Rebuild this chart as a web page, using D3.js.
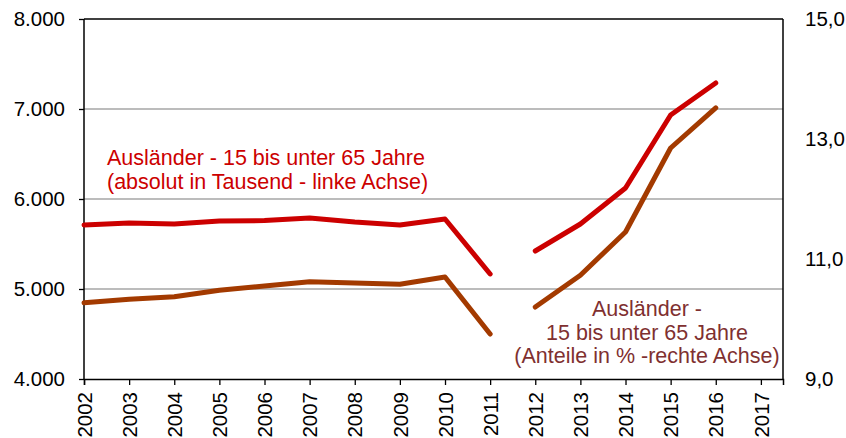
<!DOCTYPE html>
<html>
<head>
<meta charset="utf-8">
<script src="https://cdn.jsdelivr.net/npm/d3@7"></script>
<style>
  body { margin: 0; background: #fff; }
  text { font-family: Arial, "Liberation Sans", sans-serif; }
</style>
</head>
<body>
<div id="chart"></div>
<script>
// data
let years = [2002, 2003, 2004, 2005, 2006, 2007, 2008, 2009, 2010, 2011, 2012, 2013, 2014, 2015, 2016];
let absolut = [5711, 5733, 5722, 5756, 5760, 5789, 5744, 5711, 5778, 5167, 5422, 5722, 6122, 6933, 7289];
let anteil = [10.27, 10.33, 10.37, 10.48, 10.55, 10.62, 10.60, 10.58, 10.70, 9.75, 10.20, 10.73, 11.45, 12.85, 13.52];
let tickYears = d3.range(2002, 2018);
let leftTicks = [4000, 5000, 6000, 7000, 8000];
let rightTicks = [9, 11, 13, 15];

let margin = {top: 19, right: 63, bottom: 59, left: 84};
let width = 846 - margin.left - margin.right;
let height = 438 - margin.top - margin.bottom;

let svg = d3.select("#chart").append("svg")
    .attr("width", 846)
    .attr("height", 438)
    .append("g")
    .attr("transform", "translate(" + margin.left + "," + margin.top + ")");

let x = d3.scaleLinear().domain([2002, 2017.49]).range([0, width]);
let yL = d3.scaleLinear().domain([4000, 8000]).range([height, 0]);
let yR = d3.scaleLinear().domain([9, 15]).range([height, 0]);

// gridlines
svg.append("g")
    .selectAll("line")
    .data([5000, 6000, 7000])
    .join("line")
    .attr("x1", 0).attr("x2", width)
    .attr("y1", d => yL(d)).attr("y2", d => yL(d))
    .attr("stroke", "#a6a6a6")
    .attr("stroke-width", 1.3);

// top border
svg.append("line")
    .attr("x1", 0).attr("x2", width)
    .attr("y1", 0).attr("y2", 0)
    .attr("stroke", "#000").attr("stroke-width", 1.3);

let fmtL = d3.formatLocale({decimal: ",", thousands: ".", grouping: [3]});

let yAxisL = d3.axisLeft(yL).tickValues(leftTicks).tickSize(5).tickPadding(14)
    .tickFormat(fmtL.format(",.0f"));
let yAxisR = d3.axisRight(yR).tickValues(rightTicks).tickSize(0).tickPadding(22)
    .tickFormat(fmtL.format(".1f"));
let xAxis = d3.axisBottom(x).tickValues(tickYears).tickSize(6).tickFormat(d3.format("d"));

let gL = svg.append("g").call(yAxisL);
let gR = svg.append("g").attr("transform", "translate(" + width + ",0)").call(yAxisR);
let gX = svg.append("g").attr("transform", "translate(0," + height + ")").call(xAxis);

[gL, gR, gX].forEach(g => {
    g.select(".domain").attr("stroke", "#000").attr("stroke-width", 1.5);
    g.selectAll(".tick line").attr("stroke", "#000").attr("stroke-width", 1.3);
    g.selectAll("text").attr("font-size", 20.5).attr("fill", "#000")
        .attr("font-family", "Arial, 'Liberation Sans', sans-serif");
});
gL.select(".domain").attr("d", "M0," + height + "V0");
gR.select(".domain").attr("d", "M0," + height + "V0");

gX.selectAll("text")
    .attr("transform", "rotate(-90)")
    .attr("text-anchor", "end")
    .attr("dy", "0.35em")
    .attr("x", -13)
    .attr("y", 0);

// lines, broken between 2011 and 2012
let lineL = d3.line()
    .x(d => x(d.year))
    .y(d => yL(d.v));
let lineR = d3.line()
    .x(d => x(d.year))
    .y(d => yR(d.v));

function segments(vals) {
    let pts = years.map((yr, i) => ({year: yr, v: vals[i]}));
    return [pts.filter(p => p.year <= 2011), pts.filter(p => p.year >= 2012)];
}

segments(anteil).forEach(seg => {
    svg.append("path")
        .datum(seg)
        .attr("d", lineR)
        .attr("fill", "none")
        .attr("stroke", "#a33a00")
        .attr("stroke-width", 5)
        .attr("stroke-linecap", "round")
        .attr("stroke-linejoin", "round");
});

segments(absolut).forEach(seg => {
    svg.append("path")
        .datum(seg)
        .attr("d", lineL)
        .attr("fill", "none")
        .attr("stroke", "#cc0000")
        .attr("stroke-width", 5)
        .attr("stroke-linecap", "round")
        .attr("stroke-linejoin", "round");
});

// annotations
let noteL = svg.append("text")
    .attr("x", 23).attr("y", 146)
    .attr("font-size", 21.5)
    .attr("fill", "#cc0000");
noteL.append("tspan").attr("x", 23).text("Ausländer - 15 bis unter 65 Jahre");
noteL.append("tspan").attr("x", 23).attr("dy", 24).text("(absolut in Tausend - linke Achse)");

let noteR = svg.append("text")
    .attr("y", 297)
    .attr("font-size", 21.5)
    .attr("text-anchor", "middle")
    .attr("fill", "#7f3030");
["Ausländer -", "15 bis unter 65 Jahre", "(Anteile in % -rechte Achse)"].forEach((t, i) => {
    noteR.append("tspan").attr("x", 563).attr("dy", i === 0 ? 0 : 23.5).text(t);
});
</script>
</body>
</html>
